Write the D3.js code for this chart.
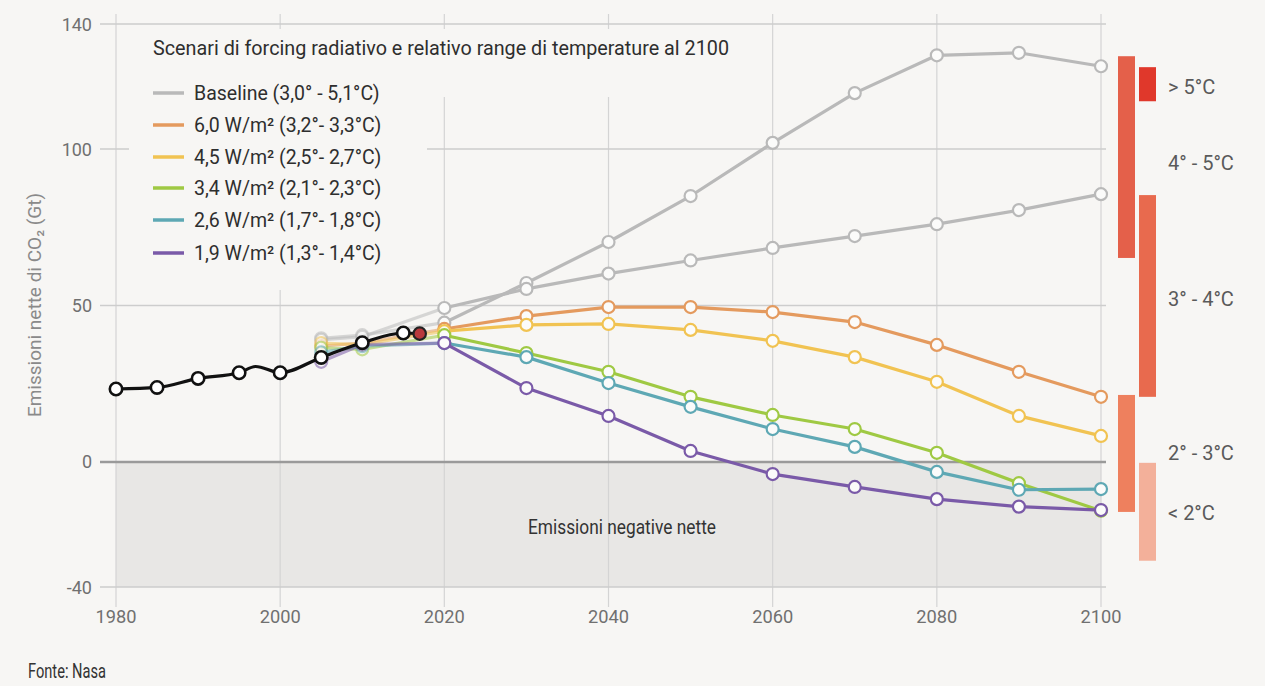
<!DOCTYPE html>
<html><head><meta charset="utf-8">
<script src="https://cdn.jsdelivr.net/npm/d3@7"></script>
<style>
html,body{margin:0;padding:0;background:#f7f6f4;}
svg{display:block;}
</style>
</head><body>
<svg id="c" width="1265" height="686"></svg>
<script>
// ---------- DATA ----------
const xTicks = [1980, 2000, 2020, 2040, 2060, 2080, 2100];
const yTicks = [-40, 0, 50, 100, 140];

const histYears  = [1980, 1985, 1990, 1995, 1997, 2000, 2005, 2010, 2015];
const histValues = [23.3, 23.8, 26.7, 28.5, 30.5, 28.5, 33.4, 38.1, 41.2];
const histMarked = [true, true, true, true, false, true, true, true, true];
const latestYear = 2017;
const latestValue = 41.0;

const scenYears = [2005, 2010, 2020, 2030, 2040, 2050, 2060, 2070, 2080, 2090, 2100];
const baselineHigh = [39.5, 40.5, 44.5, 57.2, 70.3, 85.0, 102.0, 117.9, 130.0, 130.8, 126.5];
const baselineLow  = [39.0, 40.0, 49.2, 55.3, 60.2, 64.4, 68.4, 72.2, 76.0, 80.5, 85.6];
const w60 = [37.0, 38.0, 42.5, 46.6, 49.5, 49.5, 47.9, 44.7, 37.4, 28.8, 20.8];
const w45 = [38.0, 37.5, 41.8, 43.8, 44.1, 42.2, 38.7, 33.5, 25.6, 14.7, 8.3];
const w34 = [36.5, 36.0, 40.5, 34.8, 28.8, 20.8, 15.0, 10.5, 2.9, -6.8, -15.6];
const w26 = [35.0, 37.0, 38.0, 33.5, 25.2, 17.6, 10.5, 4.8, -3.2, -8.9, -8.7];
const w19 = [32.0, 37.5, 38.0, 23.6, 14.7, 3.5, -3.9, -8.0, -11.9, -14.3, -15.4];

const legendLabels = [
  "Baseline (3,0° - 5,1°C)",
  "6,0 W/m² (3,2°- 3,3°C)",
  "4,5 W/m² (2,5°- 2,7°C)",
  "3,4 W/m² (2,1°- 2,3°C)",
  "2,6 W/m² (1,7°- 1,8°C)",
  "1,9 W/m² (1,3°- 1,4°C)"
];
const seriesColors = ["#b9b9b9", "#e49a5e", "#f1c352", "#9fc943", "#5ea8b4", "#7a5aa8"];

// temperature range bars (expressed on the emissions axis)
const rangeLabels = ["> 5°C", "4° - 5°C", "3° - 4°C", "2° - 3°C", "< 2°C"];
const rangeLow    = [115.3, 65.2, 20.8, -16.0, -31.6];
const rangeHigh   = [126.2, 129.7, 85.3, 21.4, -0.3];
const rangeColumn = [1, 0, 1, 0, 1];
const rangeLabelAt = [119.8, 95.5, 52.0, 2.9, -16.3];
const rangeColors = ["#e0382b", "#e4604a", "#e86a4e", "#ee805e", "#f3b09a"];

const titleText = "Scenari di forcing radiativo e relativo range di temperature al 2100";
const yAxisTitle = "Emissioni nette di CO₂ (Gt)";
const negativeLabel = "Emissioni negative nette";
const sourceText = "Fonte: Nasa";

// ---------- CHART ----------
const FONT = "Roboto, 'Liberation Sans', sans-serif";
const svg = d3.select("#c");
const BG = "#f7f6f4";
svg.append("rect").attr("width", 1265).attr("height", 686).attr("fill", BG);

function fit(sel, w) {
  sel.each(function () {
    const n = this.getComputedTextLength();
    if (n > w) d3.select(this).attr("textLength", w).attr("lengthAdjust", "spacingAndGlyphs");
  });
  return sel;
}

const x = d3.scaleLinear().domain([1980, 2100]).range([116, 1101]);
const y = d3.scaleLinear().domain([-40, 140]).range([587, 24]);

// negative area
svg.append("rect")
  .attr("x", x(1980)).attr("y", y(0))
  .attr("width", x(2100) - x(1980)).attr("height", y(-40) - y(0))
  .attr("fill", "#e8e7e5");

// vertical grid
svg.append("g").selectAll("line").data(xTicks).join("line")
  .attr("x1", d => x(d)).attr("x2", d => x(d))
  .attr("y1", 14).attr("y2", 607)
  .attr("stroke", "#d4d4d4").attr("stroke-width", 1.2);

// horizontal grid
svg.append("g").selectAll("line").data(yTicks.filter(d => d !== 0)).join("line")
  .attr("x1", 100).attr("x2", 1106)
  .attr("y1", d => y(d)).attr("y2", d => y(d))
  .attr("stroke", "#cdcdcd").attr("stroke-width", 1.5);

// legend backgrounds (cover grid)
svg.append("rect").attr("x", 129).attr("y", 29).attr("width", 632).attr("height", 68).attr("fill", BG);
svg.append("rect").attr("x", 129).attr("y", 96).attr("width", 298).attr("height", 194).attr("fill", BG);

// zero line
svg.append("line").attr("x1", 100).attr("x2", 1106).attr("y1", y(0)).attr("y2", y(0))
  .attr("stroke", "#9a9a9a").attr("stroke-width", 2.5);

// y tick labels
fit(svg.append("g").selectAll("text").data(yTicks).join("text")
  .attr("x", 92).attr("y", d => y(d) + 6.5)
  .attr("text-anchor", "end").attr("font-family", FONT).attr("font-size", 18)
  .attr("fill", "#707070").text(d => d), 31);

// x tick labels
fit(svg.append("g").selectAll("text").data(xTicks).join("text")
  .attr("x", d => x(d)).attr("y", 623)
  .attr("text-anchor", "middle").attr("font-family", FONT).attr("font-size", 18.5)
  .attr("fill", "#707070").text(d => d), 41);

// y axis title
fit(svg.append("text")
  .attr("transform", `translate(41,305) rotate(-90)`)
  .attr("text-anchor", "middle").attr("font-family", FONT).attr("font-size", 19)
  .attr("fill", "#8a8a8a").text(yAxisTitle), 250);

// negative label
fit(svg.append("text").attr("x", 622).attr("y", 534).attr("text-anchor", "middle")
  .attr("font-family", FONT).attr("font-size", 19.5).attr("fill", "#333").text(negativeLabel), 188);

// scenario lines
const scenarios = [baselineHigh, baselineLow, w60, w45, w34, w26, w19];
const scenColorIdx = [0, 0, 1, 2, 3, 4, 5];
const line = d3.line().x(d => x(d[0])).y(d => y(d[1]));
scenarios.forEach((vals, i) => {
  const pts = scenYears.map((yr, j) => [yr, vals[j]]);
  const col = seriesColors[scenColorIdx[i]];
  const g = svg.append("g");
  g.append("path").datum(pts.slice(0, 3)).attr("d", line)
    .attr("fill", "none").attr("stroke", col).attr("stroke-width", 3.2).attr("opacity", 0.55);
  g.append("path").datum(pts.slice(2)).attr("d", line)
    .attr("fill", "none").attr("stroke", col).attr("stroke-width", 3.2).attr("stroke-linejoin", "round");
  g.selectAll("circle").data(pts).join("circle")
    .attr("cx", d => x(d[0])).attr("cy", d => y(d[1])).attr("r", 6)
    .attr("fill", "#fbfbfa").attr("stroke", col).attr("stroke-width", 2.2)
    .attr("opacity", (d, j) => j < 2 ? 0.55 : 1);
});

// historical line
const hist = histYears.map((yr, j) => [yr, histValues[j]]).concat([[latestYear, latestValue]]);
svg.append("path").datum(hist)
  .attr("d", d3.line().x(d => x(d[0])).y(d => y(d[1])).curve(d3.curveMonotoneX))
  .attr("fill", "none").attr("stroke", "#111").attr("stroke-width", 3.2);
svg.append("g").selectAll("circle")
  .data(histYears.map((yr, j) => [yr, histValues[j], histMarked[j]]).filter(d => d[2]))
  .join("circle")
  .attr("cx", d => x(d[0])).attr("cy", d => y(d[1])).attr("r", 6.2)
  .attr("fill", "#fff").attr("stroke", "#111").attr("stroke-width", 2.6);
svg.append("circle").attr("cx", x(latestYear)).attr("cy", y(latestValue)).attr("r", 6.2)
  .attr("fill", "#b8383c").attr("stroke", "#222").attr("stroke-width", 2.2);

// temperature range bars
const colX = [1118, 1139];
svg.append("g").selectAll("rect").data(rangeLabels.map((l, i) => i)).join("rect")
  .attr("x", i => colX[rangeColumn[i]]).attr("width", 17)
  .attr("y", i => y(rangeHigh[i])).attr("height", i => y(rangeLow[i]) - y(rangeHigh[i]))
  .attr("fill", i => rangeColors[i]);
const rl = svg.append("g").selectAll("text").data(rangeLabels).join("text")
  .attr("x", 1168).attr("y", (d, i) => y(rangeLabelAt[i]) + 7)
  .attr("font-family", FONT).attr("font-size", 20).attr("fill", "#5a5a5a").text(d => d);
rl.each(function (d) {
  const target = d.length > 6 ? 71 : 49;
  fit(d3.select(this), target);
});

// title & legend
fit(svg.append("text").attr("x", 153).attr("y", 55).attr("font-family", FONT).attr("font-size", 20.5)
  .attr("fill", "#2e2e2e").text(titleText), 576);
const legRowY = [93, 125, 157, 188, 220, 253];
const lg = svg.append("g");
legendLabels.forEach((lab, i) => {
  lg.append("line").attr("x1", 153).attr("x2", 184).attr("y1", legRowY[i]).attr("y2", legRowY[i])
    .attr("stroke", seriesColors[i]).attr("stroke-width", 3.5);
  fit(lg.append("text").attr("x", 194).attr("y", legRowY[i] + 6.5).attr("font-family", FONT)
    .attr("font-size", 19.5).attr("fill", "#2e2e2e").text(lab), 193);
});

// source
fit(svg.append("text").attr("x", 28).attr("y", 678).attr("font-family", FONT).attr("font-size", 20)
  .attr("fill", "#333").text(sourceText), 78);
</script>
</body></html>
